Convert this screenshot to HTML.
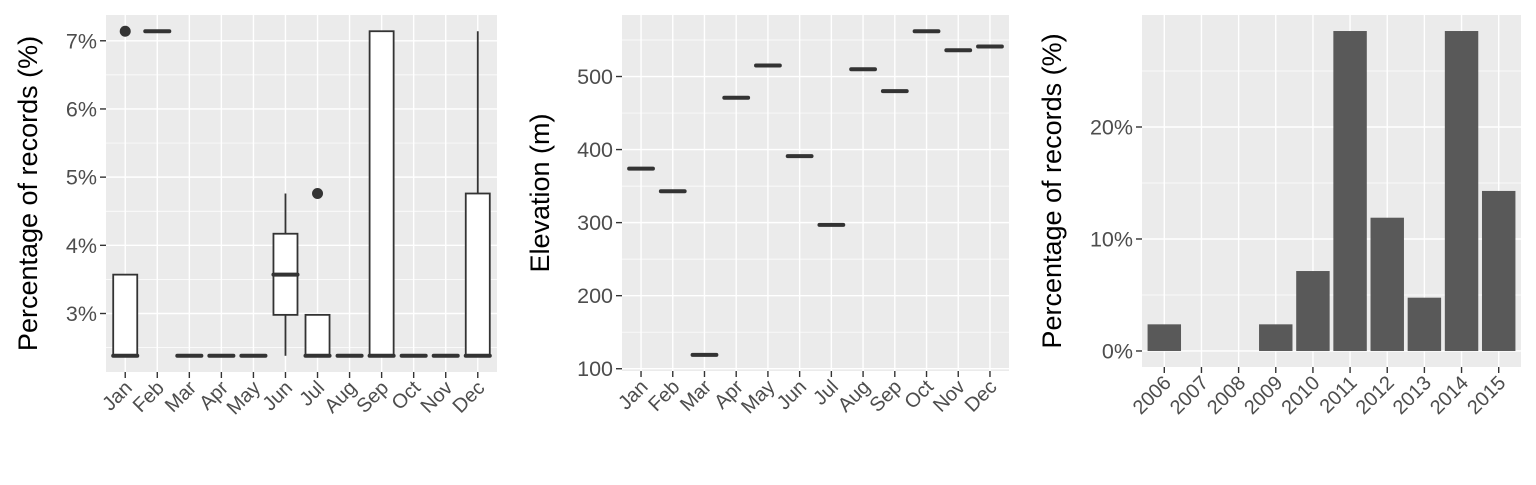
<!DOCTYPE html>
<html><head><meta charset="utf-8"><style>
body{margin:0;background:#fff;}
svg text{font-family:"Liberation Sans",Arial,sans-serif;}
</style></head><body>
<svg id="s" width="1536" height="480" xmlns="http://www.w3.org/2000/svg"></svg>
<script>
const months=["Jan","Feb","Mar","Apr","May","Jun","Jul","Aug","Sep","Oct","Nov","Dec"];
// panel 1 boxplot stats (%): lower whisker, q1, median, q3, upper whisker
const boxLow=[2.38,7.14,2.38,2.38,2.38,2.38,2.38,2.38,2.38,2.38,2.38,2.38];
const boxQ1=[2.38,7.14,2.38,2.38,2.38,2.98,2.38,2.38,2.38,2.38,2.38,2.38];
const boxMed=[2.38,7.14,2.38,2.38,2.38,3.57,2.38,2.38,2.38,2.38,2.38,2.38];
const boxQ3=[3.57,7.14,2.38,2.38,2.38,4.17,2.98,2.38,7.14,2.38,2.38,4.76];
const boxHigh=[3.57,7.14,2.38,2.38,2.38,4.76,2.98,2.38,7.14,2.38,2.38,7.14];
const outlierMonth=[0,6];
const outlierVal=[7.14,4.76];
const pctTicks=[3,4,5,6,7];
// panel 2
const elevation=[374,343,119,471,515,391,297,510,480,562,536,541];
const elevTicks=[100,200,300,400,500];
// panel 3
const years=["2006","2007","2008","2009","2010","2011","2012","2013","2014","2015"];
const yearPct=[2.38,0,0,2.38,7.14,28.57,11.9,4.76,28.57,14.29];
const yearTicks=[0,10,20];

const S=document.getElementById('s');const NS="http://www.w3.org/2000/svg";
function el(t,a,p){const e=document.createElementNS(NS,t);for(const k in a)e.setAttribute(k,a[k]);(p||S).appendChild(e);return e;}

function panel(o){
  const g=el('g',{});
  
  
  const bg=el('rect',{x:o.x0,y:o.y0,width:o.x1-o.x0,height:o.y1-o.y0,fill:'#EBEBEB'},g);
  
  
  const ys=v=>o.y1-(v-o.dmin)/(o.dmax-o.dmin)*(o.y1-o.y0);
  const n=o.cats.length;const step=(o.x1-o.x0)/(n+0.2);
  const xs=i=>o.x0+step*(0.6+i);
  for(let i=0;i<o.ticks.length+1;i++){
    const v=i<o.ticks.length?o.ticks[i]-o.tstep/2:o.ticks[o.ticks.length-1]+o.tstep/2;
    const y=ys(v);if(y<o.y0||y>o.y1)continue;
    const l=el('line',{x1:o.x0,x2:o.x1,y1:y,y2:y,stroke:'#fff','stroke-width':0.7},g);
    
    
  }
  o.ticks.forEach((v,i)=>{const y=ys(v);
    const l=el('line',{x1:o.x0,x2:o.x1,y1:y,y2:y,stroke:'#fff','stroke-width':1.4},g);
    
    
    el('line',{x1:o.x0-6,x2:o.x0,y1:y,y2:y,stroke:'#333','stroke-width':1.4},g);
    const t=el('text',{x:o.x0-9,y:y+7.5,'text-anchor':'end','font-size':21.5,fill:'#4D4D4D'},g);
    t.textContent=o.tlabel(v);
    
    
  });
  o.cats.forEach((c,i)=>{const x=xs(i);
    const l=el('line',{x1:x,x2:x,y1:o.y0,y2:o.y1,stroke:'#fff','stroke-width':1.4},g);
    
    
    el('line',{x1:x,x2:x,y1:o.y1,y2:o.y1+6,stroke:'#333','stroke-width':1.4},g);
    const t=el('text',{x:0,y:0,'text-anchor':'end','font-size':20,fill:'#4D4D4D',transform:`translate(${x+8},${o.y1+17}) rotate(-45)`},g);
    t.textContent=c;
    
    
  });
  const at=el('text',{x:0,y:0,'text-anchor':'middle','font-size':27,fill:'#000',transform:`translate(${o.tx},${(o.y0+o.y1)/2}) rotate(-90)`},g);
  at.textContent=o.title;
  
  
  o.draw(g,xs,ys,step);
}

panel({name:'monthly-percentage-boxplot',x0:106,x1:497,y0:15,y1:372,dmin:2.142,dmax:7.378,cats:months,ticks:pctTicks,tstep:1,tlabel:v=>v+'%',title:'Percentage of records (%)',tx:37,
 draw:(g,xs,ys,step)=>{
  const w=step*0.75;
  months.forEach((m,i)=>{const x=xs(i);
    const b=el('g',{},g);
    
    
    el('line',{x1:x,x2:x,y1:ys(boxLow[i]),y2:ys(boxQ1[i]),stroke:'#333','stroke-width':1.8},b);
    el('line',{x1:x,x2:x,y1:ys(boxQ3[i]),y2:ys(boxHigh[i]),stroke:'#333','stroke-width':1.8},b);
    el('rect',{x:x-w/2,y:ys(boxQ3[i]),width:w,height:Math.max(0.01,ys(boxQ1[i])-ys(boxQ3[i])),fill:'#fff',stroke:'#333','stroke-width':1.8},b);
    el('line',{x1:x-w/2,x2:x+w/2,y1:ys(boxMed[i]),y2:ys(boxMed[i]),stroke:'#333','stroke-width':4,'stroke-linecap':'round'},b);
  });
  outlierMonth.forEach((mi,k)=>{const c=el('circle',{cx:xs(mi),cy:ys(outlierVal[k]),r:5.5,fill:'#333'},g);
    
    });
 }});

panel({name:'monthly-elevation-boxplot',x0:622,x1:1009,y0:15,y1:371,dmin:96.9,dmax:584.2,cats:months,ticks:elevTicks,tstep:100,tlabel:v=>String(v),title:'Elevation (m)',tx:549,
 draw:(g,xs,ys,step)=>{
  const w=step*0.75;
  months.forEach((m,i)=>{const x=xs(i),y=ys(elevation[i]);
    const l=el('line',{x1:x-w/2,x2:x+w/2,y1:y,y2:y,stroke:'#333','stroke-width':4,'stroke-linecap':'round'},g);
    
    
  });
 }});

panel({name:'yearly-percentage-bars',x0:1142,x1:1521,y0:15,y1:367,dmin:-1.43,dmax:30,cats:years,ticks:yearTicks,tstep:10,tlabel:v=>v+'%',title:'Percentage of records (%)',tx:1061,
 draw:(g,xs,ys,step)=>{
  const w=step*0.9;
  years.forEach((yv,i)=>{if(yearPct[i]<=0)return;const x=xs(i);
    const r=el('rect',{x:x-w/2,y:ys(yearPct[i]),width:w,height:ys(0)-ys(yearPct[i]),fill:'#595959'},g);
    
    
  });
 }});
</script>
</body></html>
